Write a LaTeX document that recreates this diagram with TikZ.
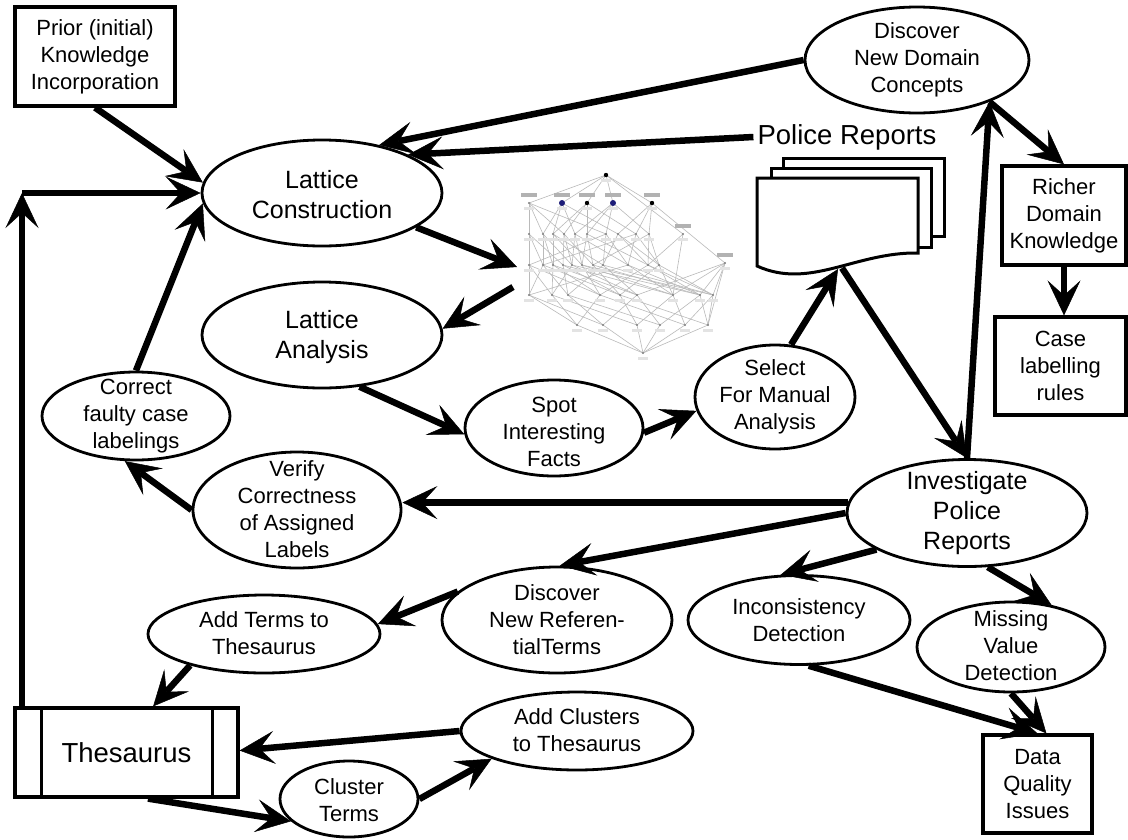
\documentclass[tikz,border=0pt]{standalone}
\usepackage{fontspec}
\setmainfont{Liberation Sans}
\usetikzlibrary{shapes.geometric,arrows.meta}
\newcommand{\fsN}{\fontsize{22}{27}\selectfont}
\newcommand{\fsL}{\fontsize{25}{30}\selectfont}
\newcommand{\fsH}{\fontsize{27.5}{33}\selectfont}
\colorlet{latedge}{black!27}
\colorlet{latlabel}{black!11}
\definecolor{latblue}{RGB}{28,28,120}

\begin{document}
\begin{tikzpicture}[x=1pt,y=-1pt,
  ell/.style={ellipse,draw,line width=2.8pt,fill=white,inner sep=0pt},
  esize/.style 2 args={minimum width=#1pt,minimum height=#2pt},
  etext/.style={align=center,inner sep=0pt,font=\fsN},
  box/.style={rectangle,draw,line width=3.2pt,fill=white,inner sep=0pt,align=center,font=\fsN},
  flow/.style={line width=6.5pt,-{Stealth[length=35pt,width=33pt,inset=15pt,line width=0.5pt]}},
  page/.style={draw,line width=3pt,fill=white,line join=miter},
  latline/.style={draw=latedge,line width=0.6pt},
]
\useasboundingbox (0,0) rectangle (1128,839);
\fill[white] (0,0) rectangle (1128,839);

% ---------- concept lattice ----------
\coordinate (T) at (606,175);
\foreach \n/\x in {1/529,2/562,3/587,4/613,5/652} \coordinate (A\n) at (\x,203);
\coordinate (E) at (683,234);
\foreach \n/\x in {1/529,2/543,3/553,4/564,5/575,6/587,7/606,8/618,9/636,10/649} \coordinate (B\n) at (\x,234);
\foreach \n/\x in {1/529,2/543,3/553,4/563,5/572,6/582,7/593,8/603,9/628,10/648,11/659} \coordinate (C\n) at (\x,265);
\coordinate (R) at (725,263);
\foreach \n/\x in {1/529,2/552,3/568,4/600,5/620,6/637,7/673,8/700,9/713} \coordinate (D\n) at (\x,295);
\foreach \n/\x in {1/577,2/603,3/637,4/660,5/685,6/708} \coordinate (F\n) at (\x,325);
\coordinate (Z) at (643,353);

\foreach \a/\b in {T/A1,T/A2,T/A3,T/A4,T/A5,T/E,
  A1/B1,A1/B2,A1/B4,A1/B7,A2/B2,A2/B3,A2/B5,A2/B8,A3/B3,A3/B6,A3/B9,A3/B4,
  A4/B5,A4/B6,A4/B7,A4/B10,A5/B8,A5/B9,A5/B10,A5/R,E/C10,E/D7,
  B1/C1,B1/C2,B1/C4,B2/C2,B2/C3,B2/C5,B3/C3,B3/C6,B3/C8,B4/C4,B4/C5,B4/C7,
  B5/C5,B5/C6,B5/C9,B6/C6,B6/C7,B6/C10,B7/C1,B7/C8,B7/C9,B8/C8,B8/C10,B8/C11,
  B9/C9,B9/C11,B9/C2,B10/C10,B10/C11,B10/C7,
  C1/D1,C1/D2,C1/D4,C2/D1,C2/D3,C2/D5,C3/D2,C3/D4,C3/D6,C4/D3,C4/D5,C4/D7,
  C5/D2,C5/D6,C5/D8,C6/D4,C6/D7,C6/D9,C7/D5,C7/D8,C8/D6,C8/D9,C8/D3,
  C9/D7,C9/D8,C9/D1,C10/D8,C10/D9,C10/D4,C11/D9,C11/D7,C11/D5,
  R/D6,R/D7,R/D8,R/D9,R/F6,
  D1/F1,D1/F2,D2/F1,D2/F3,D3/F2,D3/F4,D4/F1,D4/F5,D5/F3,D5/F6,D6/F2,D6/F4,
  D7/F3,D7/F5,D8/F4,D8/F6,D9/F5,D9/F6,
  F1/Z,F2/Z,F3/Z,F4/Z,F5/Z,F6/Z}
  \draw[latline] (\a) -- (\b);

% small label plates under the lattice points
\foreach \p in {T,A1,A2,A3,A4,A5,E,B1,B2,B3,B4,B5,B6,B7,B8,B9,B10,
  C1,C2,C3,C4,C5,C6,C7,C8,C9,C10,C11,R,D1,D2,D3,D4,D5,D6,D7,D8,D9,
  F1,F2,F3,F4,F5,F6,Z}
  {\fill[latlabel] ([shift={(-5,3.5)}]\p) rectangle ([shift={(5,6.5)}]\p);
   \fill[black!50] (\p) circle (1.1pt);}
% attribute plates above the upper points
\foreach \p in {A1,A2,A3,A4,A5,E,R}
  \fill[black!30] ([shift={(-8,-10)}]\p) rectangle ([shift={(8,-6.5)}]\p);
\fill[latblue] (A2) circle (3pt);
\fill[latblue] (A4) circle (3pt);
\fill[black] (T) circle (2.2pt);
\foreach \p in {A3,A5} \fill[black] (\p) circle (2.2pt);

\coordinate (latin) at (517,267);
\coordinate (latout) at (513,287);

% ---------- stack of police reports ----------
\draw[page] (783,158) rectangle (944,236);
\draw[page] (771,168) rectangle (931,247);
\draw[page] (757,178) -- (918,178) -- (918,253)
  .. controls (855,252) and (810,290) .. (757,266) -- cycle;
\coordinate (docin) at (838,269);
\coordinate (docout) at (842,268);
\node[font=\fsH,inner sep=4pt] (prlbl) at (847,137) {Police Reports};

% ---------- boxes ----------
\node[box,minimum width=160pt,minimum height=99pt] (prior) at (95,56.5)
  {Prior (initial)\\Knowledge\\Incorporation};
\node[box,minimum width=124pt,minimum height=99pt] (richer) at (1064,215.5)
  {Richer\\Domain\\Knowledge};
\node[box,minimum width=131pt,minimum height=98pt] (rules) at (1060.5,366)
  {Case\\labelling\\rules};
\node[box,minimum width=109pt,minimum height=98pt] (dq) at (1037.5,784)
  {Data\\Quality\\Issues};
\node[box,minimum width=223pt,minimum height=89pt,font=\fsH] (thes) at (126.5,752.5) {Thesaurus};
\draw[line width=3pt] ([xshift=28pt]thes.north west) -- ([xshift=28pt]thes.south west);
\draw[line width=3pt] ([xshift=-27pt]thes.north east) -- ([xshift=-27pt]thes.south east);

% ---------- process ellipses ----------
\node[ell,esize={224}{106}] (dc) at (917,60) {};
\node[etext] (dc-t) at (917,60) {Discover\\New Domain\\Concepts};
\node[ell,esize={240}{106}] (lc) at (322,193) {};
\node[etext,font=\fsL] (lc-t) at (322,195) {Lattice\\Construction};
\node[ell,esize={240}{106}] (la) at (322,335) {};
\node[etext,font=\fsL] (la-t) at (322,337) {Lattice\\Analysis};
\node[ell,esize={178}{96}] (spot) at (554,428) {};
\node[etext] (spot-t) at (554,432) {Spot\\Interesting\\Facts};
\node[ell,esize={160}{104}] (select) at (775,397) {};
\node[etext] (select-t) at (775,397) {Select\\For Manual\\Analysis};
\node[ell,esize={188}{88}] (correct) at (136,416) {};
\node[etext] (correct-t) at (136,416) {Correct\\faulty case\\labelings};
\node[ell,esize={208}{116}] (verify) at (297,510) {};
\node[etext] (verify-t) at (297,509) {Verify\\Correctness\\of Assigned\\Labels};
\node[ell,esize={240}{107}] (inv) at (967,513) {};
\node[etext,font=\fsL] (inv-t) at (967,513) {Investigate\\Police\\Reports};
\node[ell,esize={230}{106}] (dnrt) at (557,620) {};
\node[etext] (dnrt-t) at (557,620) {Discover\\New Referen-\\tialTerms};
\node[ell,esize={232}{78}] (addterms) at (264,634) {};
\node[etext] (addterms-t) at (264,633) {Add Terms to\\Thesaurus};
\node[ell,esize={222}{89}] (incons) at (799,620) {};
\node[etext] (incons-t) at (799,620) {Inconsistency\\Detection};
\node[ell,esize={188}{90}] (missing) at (1011,647) {};
\node[etext] (missing-t) at (1011,646) {Missing\\Value\\Detection};
\node[ell,esize={232}{78}] (addcl) at (577,731) {};
\node[etext] (addcl-t) at (577,730) {Add Clusters\\to Thesaurus};
\node[ell,esize={138}{76}] (cluster) at (349,799) {};
\node[etext] (cluster-t) at (349,800) {Cluster\\Terms};

% ---------- connectors ----------
\coordinate (turn) at (22,193);
\draw[flow] (prior.south) -- (lc.175);
\draw[flow] (thes.north -| turn) -- (turn);
\draw[flow] (turn) -- (lc.west);
\draw[flow] (correct.north) -- (lc.185);
\draw[flow] (dc.west) -- (lc.40);
\draw[flow] (prlbl.west) -- (lc.24);
\draw[flow] (lc.-20) -- (latin);
\draw[flow] (latout) -- (la.3);
\draw[flow] (la.-54) -- (spot.184);
\draw[flow] (spot.-3) -- (select.190);
\draw[flow] (select.73) -- (docin);
\draw[flow] (docout) -- (inv.north);
\draw[flow] (inv.north) -- (dc.-30);
\draw[flow] (dc.-30) -- (richer.north);
\draw[flow] (richer.south) -- (richer.south |- rules.north);
\draw[flow] (inv.175) -- (inv.175 -| verify.east);
\draw[flow] (verify.west) -- (correct.256);
\draw[flow] (inv.west) -- (dnrt.87);
\draw[flow] (inv.202) -- (incons.112);
\draw[flow] (inv.-69) -- (missing.46);
\draw[flow] (incons.-78) -- (dq.north);
\draw[flow] (missing.south) -- (dq.80);
\draw[flow] (dnrt.164) -- (addterms.5);
\draw[flow] (addterms.203) -- (thes.60);
\draw[flow] (addcl.west) -- (thes.1);
\draw[flow] (thes.-65) -- (cluster.201);
\draw[flow] (cluster.east) -- (addcl.198);
\end{tikzpicture}
\end{document}
